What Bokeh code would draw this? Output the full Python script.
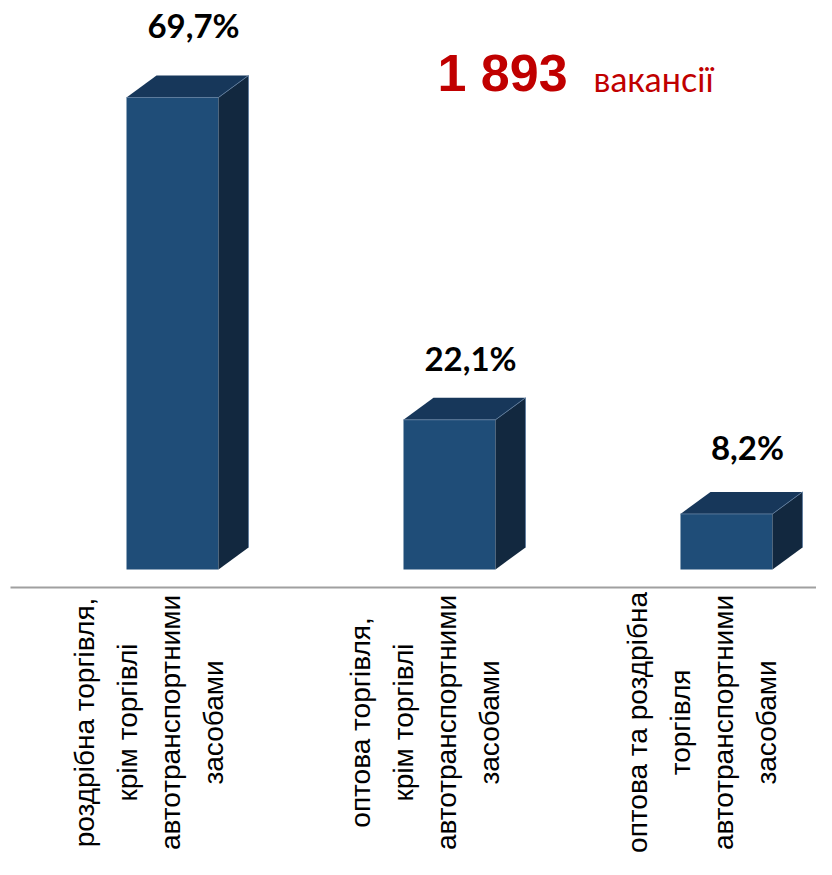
import math
from bokeh.plotting import figure
from bokeh.models import Range1d, Label, ColumnDataSource
from bokeh.core.properties import value
from bokeh.embed import file_html
from bokeh.resources import INLINE

# ---- data ----
categories = [
    "роздрібна торгівля,\nкрім торгівлі\nавтотранспортними\nзасобами",
    "оптова торгівля,\nкрім торгівлі\nавтотранспортними\nзасобами",
    "оптова та роздрібна\nторгівля\nавтотранспортними\nзасобами",
]
shares = [69.7, 22.1, 8.2]
share_labels = ["69,7%", "22,1%", "8,2%"]
total_text = "1 893"
total_unit = "вакансії"

# ---- layout / style ----
W, H = 816, 859
X_MIN, X_MAX = -0.621, 2.325
Y_MIN, Y_MAX = -42.83, 84.02
PPX = W / (X_MAX - X_MIN)
PPY = H / (Y_MAX - Y_MIN)

BAR_W = 92 / PPX
DX = 30 / PPX
DY = 22 / PPY

FRONT = "#1F4D78"
TOP = "#17375A"
SIDE = "#12283F"
EDGE = "#5F7D9E"

p = figure(width=W, height=H, x_range=Range1d(X_MIN, X_MAX), y_range=Range1d(Y_MIN, Y_MAX),
           output_backend="svg", toolbar_location=None, x_axis_location=None,
           y_axis_location=None, min_border=0, outline_line_color=None)
p.xgrid.visible = False
p.ygrid.visible = False
p.background_fill_color = "white"
p.border_fill_color = "white"

idx = list(range(len(shares)))

# front faces
p.quad(left=[i - BAR_W / 2 for i in idx], right=[i + BAR_W / 2 for i in idx],
       bottom=[0] * len(idx), top=shares, fill_color=FRONT, line_color=None)

# top and side faces
top_xs, top_ys, side_xs, side_ys = [], [], [], []
for i, v in zip(idx, shares):
    l, r = i - BAR_W / 2, i + BAR_W / 2
    top_xs.append([l, l + DX, r + DX, r])
    top_ys.append([v, v + DY, v + DY, v])
    side_xs.append([r, r + DX, r + DX, r])
    side_ys.append([v, v + DY, DY, 0])
p.patches(top_xs, top_ys, fill_color=TOP, line_color=None)
p.patches(side_xs, side_ys, fill_color=SIDE, line_color=None)

# light edges
ex, ey = [], []
for i, v in zip(idx, shares):
    l, r = i - BAR_W / 2, i + BAR_W / 2
    ex.append([l, r, r + DX, r + DX])
    ey.append([v, v, v + DY, DY])
p.multi_line(ex, ey, line_color=EDGE, line_width=1, line_alpha=0.9)

# baseline axis line
axis_y = -18 / PPY
p.segment(x0=[X_MIN + 10 / PPX], y0=[axis_y], x1=[X_MAX], y1=[axis_y],
          line_color="#A0A0A0", line_width=2)

# value labels
label_lift_px = [50, 40, 45]
p.text(x=idx, y=[v + DY + d / PPY for v, d in zip(shares, label_lift_px)], text=share_labels,
       x_offset=21, text_align="center", text_baseline="alphabetic",
       text_font=value("Lato"), text_font_style="bold", text_font_size="33px", text_color="black")

# category labels (rotated)
lx, ly, lt, lo = [], [], [], []
cat_y = -153 / PPY
for i, c in enumerate(categories):
    lines = c.split("\n")
    n = len(lines)
    for k, t in enumerate(lines):
        lx.append(i)
        ly.append(cat_y)
        lt.append(t)
        lo.append(-24 + (k - (n - 1) / 2) * 43)
src = ColumnDataSource(dict(x=lx, y=ly, text=lt, xo=lo))
p.text(x="x", y="y", text="text", x_offset="xo", source=src, angle=math.pi / 2,
       text_align="center", text_baseline="middle", text_font=value("Liberation Sans"),
       text_font_size="28px", text_color="black")

# total annotation
p.add_layout(Label(x=437, y=H - 72, x_units="screen", y_units="screen", text=total_text,
                   text_font="Liberation Sans", text_font_style="bold", text_font_size="52px",
                   text_color="#C00000", text_baseline="alphabetic"))
p.add_layout(Label(x=593, y=H - 78, x_units="screen", y_units="screen", text=total_unit,
                   text_font="Lato", text_font_size="34px",
                   text_color="#C00000", text_baseline="alphabetic"))

open("out.html", "w").write(file_html(p, INLINE))
